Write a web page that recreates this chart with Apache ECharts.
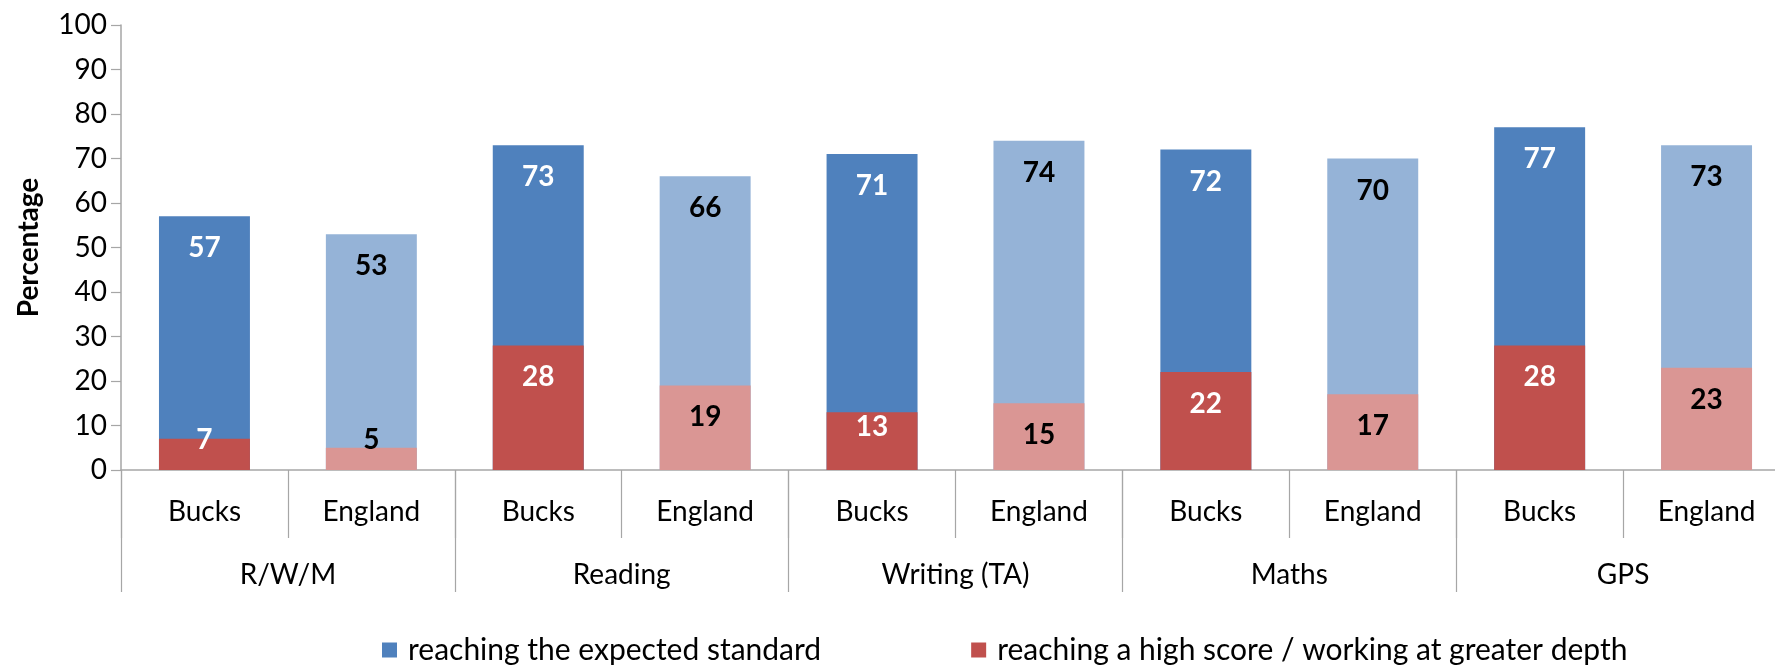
<!DOCTYPE html>
<html>
<head>
<meta charset="utf-8">
<script src="https://cdn.jsdelivr.net/npm/echarts@6/dist/echarts.min.js"></script>
<style>
html,body{margin:0;padding:0;background:#fff;overflow:hidden;width:1775px;height:666px;}
#chart{width:1790px;height:666px;}
</style>
</head>
<body>
<div id="chart"></div>
<script>
const areas = ['Bucks','England','Bucks','England','Bucks','England','Bucks','England','Bucks','England'];
const subjects = ['R/W/M','Reading','Writing (TA)','Maths','GPS'];
const expectedStd = [57,53,73,66,71,74,72,70,77,73];
const highScore = [7,5,28,19,13,15,22,17,28,23];
const seriesNames = ['reaching the expected standard','reaching a high score / working at greater depth'];

const FONT = 'Lato, sans-serif';
const blueBucks = '#4F81BD', blueEng = '#95B3D7';
const redBucks = '#C0504D', redEng = '#DA9694';

function items(vals, cBucks, cEng){
  return vals.map((v,i)=>{
    const isBucks = areas[i]==='Bucks';
    let pos = 'insideTop', dist = 18;
    if (v < 10) { pos = 'insideBottom'; dist = 16; }
    else if (v < 14) { dist = 1; }
    return {
      value: v,
      itemStyle:{color: isBucks ? cBucks : cEng},
      label:{color: isBucks ? '#FFFFFF' : '#000000', position: pos, distance: dist}
    };
  });
}

const chart = echarts.init(document.getElementById('chart'));
chart.setOption({
  animation:false,
  textStyle:{fontFamily:FONT},
  grid:{left:121,right:0,top:25,bottom:196},
  legend:{
    left:377, top:630, itemWidth:15, itemHeight:15, itemGap:150,
    icon:'rect',
    textStyle:{fontFamily:FONT,fontSize:30,color:'#000',padding:[0,0,0,6]},
    data:[{name:seriesNames[0],itemStyle:{color:blueBucks}},{name:seriesNames[1],itemStyle:{color:redBucks}}]
  },
  xAxis:[{
    type:'category', data:areas, position:'bottom',
    axisLine:{show:true,lineStyle:{color:'#A6A6A6',width:1.5}},
    axisTick:{show:true,interval:0,length:68,lineStyle:{color:'#A6A6A6',width:1.2}},
    axisLabel:{interval:0,margin:28,fontFamily:FONT,fontSize:28,color:'#000'}
  },{
    type:'category', data:subjects, position:'bottom',
    axisLine:{show:false},
    axisTick:{show:true,interval:0,length:122,lineStyle:{color:'#A6A6A6',width:1.2}},
    axisLabel:{interval:0,margin:91,fontFamily:FONT,fontSize:28,color:'#000'}
  }],
  yAxis:{
    type:'value', min:0, max:100, interval:10,
    name:'Percentage', nameLocation:'middle', nameGap:78, nameRotate:90,
    nameTextStyle:{fontFamily:FONT,fontSize:28,fontWeight:'bold',color:'#000'},
    axisLine:{show:true,lineStyle:{color:'#A6A6A6',width:1.5}},
    axisTick:{show:true,length:10,lineStyle:{color:'#A6A6A6',width:1.2}},
    splitLine:{show:false},
    axisLabel:{fontFamily:FONT,fontSize:28,color:'#000',margin:14}
  },
  series:[{
    name:seriesNames[0], type:'bar', xAxisIndex:0, barWidth:'54.5%', barGap:'-100%',
    data:items(expectedStd, blueBucks, blueEng),
    label:{show:true,fontFamily:FONT,fontSize:28,fontWeight:'bold'}
  },{
    name:seriesNames[1], type:'bar', xAxisIndex:0, barWidth:'54.5%', barGap:'-100%',
    data:items(highScore, redBucks, redEng),
    label:{show:true,fontFamily:FONT,fontSize:28,fontWeight:'bold'}
  }]
});
</script>
</body>
</html>
